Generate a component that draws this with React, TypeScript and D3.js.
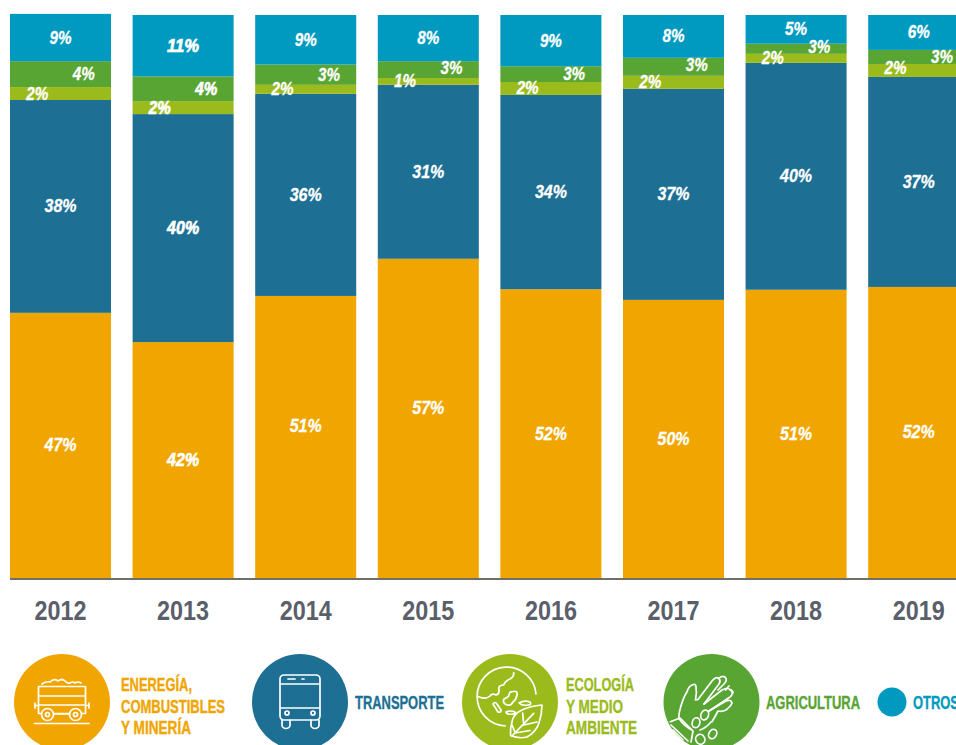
import React from "react";
import * as d3 from "d3";

const years = ["2012", "2013", "2014", "2015", "2016", "2017", "2018", "2019"];
const energia = [47.1, 41.9, 50.1, 56.7, 51.3, 49.4, 51.2, 51.7];
const transporte = [37.8, 40.5, 35.9, 30.9, 34.5, 37.5, 40.3, 37.3];
const ecologia = [2.3, 2.3, 1.6, 1.2, 2.3, 2.3, 1.6, 2.3];
const agricultura = [4.6, 4.4, 3.6, 3.0, 2.8, 3.2, 1.8, 2.5];
const otros = [8.4, 10.9, 8.8, 8.2, 9.1, 7.6, 5.1, 6.2];

const energiaLabels = ["47%", "42%", "51%", "57%", "52%", "50%", "51%", "52%"];
const transporteLabels = ["38%", "40%", "36%", "31%", "34%", "37%", "40%", "37%"];
const ecologiaLabels = ["2%", "2%", "2%", "1%", "2%", "2%", "2%", "2%"];
const agriculturaLabels = ["4%", "4%", "3%", "3%", "3%", "3%", "3%", "3%"];
const otrosLabels = ["9%", "11%", "9%", "8%", "9%", "8%", "5%", "6%"];

const COLORS = { energia: "#f1a500", transporte: "#1d6f94", ecologia: "#9bbb1c", agricultura: "#58a534", otros: "#0099c0" };
const FONT = "'Liberation Sans', sans-serif";

const series = [
  { key: "energia", values: energia, labels: energiaLabels, color: COLORS.energia, lx: 0.5 },
  { key: "transporte", values: transporte, labels: transporteLabels, color: COLORS.transporte, lx: 0.5 },
  { key: "ecologia", values: ecologia, labels: ecologiaLabels, color: COLORS.ecologia, lx: 0.27 },
  { key: "agricultura", values: agricultura, labels: agriculturaLabels, color: COLORS.agricultura, lx: 0.73 },
  { key: "otros", values: otros, labels: otrosLabels, color: COLORS.otros, lx: 0.5 },
];

// Labels the source placed away from the centre of their segment.
const labelNudge: Record<string, number> = { "2014energia": -11, "2015energia": -10, "2019ecologia": -2, "2015agricultura": -2, "2018agricultura": -2, "2017agricultura": -2 };

const x = d3.scaleBand<string>().domain(years).range([10, 969.2]).paddingInner(0.176).paddingOuter(0);
const y = d3.scaleLinear().domain([0, 100]).range([578, 15]);

function Stroke({ children }: { children: React.ReactNode }) {
  return <g fill="none" stroke="#fff" strokeWidth={1.7} strokeLinecap="round" strokeLinejoin="round">{children}</g>;
}

function CartIcon() {
  return (
    <Stroke>
      <path d="M42 684 q4 -3 8 -2 q4 -4 8 -1 q4 -3 7 0 q3 3 5 2 q3 -2 5 0 q3 -2 6 0" />
      <rect x={38.5} y={686.5} width={47} height={27} />
      <path d="M39 696 H85 M39 705 H85 M35 703 V708 M35 705.5 H38 M89 703 V708 M86 705.5 H89" />
      <circle cx={47.5} cy={714.5} r={6} fill={COLORS.energia} />
      <circle cx={47.5} cy={714.5} r={2} />
      <circle cx={75.5} cy={714.5} r={6} fill={COLORS.energia} />
      <circle cx={75.5} cy={714.5} r={2} />
      <path d="M54 714 H69 M34.5 723.5 H89" />
    </Stroke>
  );
}

function BusIcon() {
  return (
    <Stroke>
      <rect x={280} y={675} width={40} height={45} rx={4} />
      <path d="M281 684 H319 M281 708 H319 M288 679 H295 M302 679 H304" />
      <path d="M282 720 V725 a4 3.5 0 0 0 8 0 V720 M311 720 V725 a4 3.5 0 0 0 8 0 V720" />
      <circle cx={287} cy={713} r={2} />
      <circle cx={313} cy={713} r={2} />
    </Stroke>
  );
}

function GlobeIcon() {
  return (
    <Stroke>
      <path d="M505.3 726 A29.5 29.5 0 1 1 536 694" />
      <path d="M513.7 672.7 Q514 677 510 679 Q505 681 503.7 685 Q499 685 498.7 688.3 Q500 694 496 695 Q492 693 490 696 Q486 700 478.7 696.7" />
      <path d="M512 691.7 Q518 690 517 695 Q516 700 513 702 Q511 706 507 705 Q502 703 504 699 Q507 698 508.7 696 Q509 692 512 691.7 Z" />
      <path d="M493 704 Q495 701 497 704 L501 710 Q501 713 498 712 Z" />
      <path d="M519 703 Q524 700 530 702 Q532 705 528 705 Q522 706 519 703 Z" />
      <path d="M506 712 Q511 710 515 712 Q516 714 512 714 Q507 715 506 712 Z" />
      <path d="M542 705 Q530 706 522 710 Q513 714 512 722 Q510 728 510.5 735.5 Q519 739 527 737 Q536 732 539 723 Q542 714 542 705 Z" />
      <path d="M512 736 L533.7 713.3 M523.7 725 L522.7 713 M523.7 725 L537 722 M515.3 733 L512 725 M515.3 733 L530 730.5" />
    </Stroke>
  );
}

function HandIcon() {
  return (
    <Stroke>
      <path d="M678.7 718.3 Q679 712 680.3 708.3 Q683 698 687 691.7 Q689 686 692 685 Q696 683 696 687 Q697 693 695.5 700 L698 699.5 L712 681 Q716 676 719 678.5 Q721 681 719 684 L704 704" />
      <path d="M704 704 L722 690 Q727 687 731 690 Q734 694 730 697 L709 711 " />
      <path d="M709 711 L726 701 Q731 699 732 703 Q731 706 726 710 Q722 712 718 711 Q715 717 712 721.7" />
      <path d="M718.5 678.5 Q722 675 725 677 Q728 680 724 684 L718 690 M725.5 690 L729 686 M730 690 Q733 690 733 693" />
      <path d="M678.7 718.3 Q685 727 692 730 M700 730 Q706 728 711 722" />
      <ellipse cx={696} cy={722.7} rx={3.8} ry={5} transform="rotate(15 696 722.7)" />
      <ellipse cx={704.7} cy={715} rx={3.8} ry={5} transform="rotate(20 704.7 715)" />
      <ellipse cx={700.3} cy={739.3} rx={4.5} ry={5} transform="rotate(-30 700.3 739.3)" />
      <ellipse cx={712.7} cy={734} rx={3.8} ry={5} transform="rotate(30 712.7 734)" />
      <path d="M670.3 721.7 L680 718 L693 731 L691 742 M671 725 L688 741 M673 730 L683 740 M675 735 L680 740" />
    </Stroke>
  );
}

const legendText = [
  { lines: ["ENEREGÍA,", "COMBUSTIBLES", "Y MINERÍA"], tx: 121, color: COLORS.energia, widths: [71, 104, 70] },
  { lines: ["TRANSPORTE"], tx: 355, color: COLORS.transporte, widths: [89] },
  { lines: ["ECOLOGÍA", "Y MEDIO", "AMBIENTE"], tx: 566, color: COLORS.ecologia, widths: [68, 57, 71] },
  { lines: ["AGRICULTURA"], tx: 766, color: COLORS.agricultura, widths: [94] },
  { lines: ["OTROS"], tx: 913, color: COLORS.otros, widths: [46] },
];
const legendDots = [
  { cx: 62, r: 48, color: COLORS.energia },
  { cx: 300, r: 48, color: COLORS.transporte },
  { cx: 510, r: 48, color: COLORS.ecologia },
  { cx: 711.5, r: 48, color: COLORS.agricultura },
  { cx: 892, r: 14.5, color: COLORS.otros },
];

export default function App() {
  const stacked = years.map((yr, i) => {
    let acc = 0;
    return series.map((s) => {
      const y0 = acc;
      acc += s.values[i];
      return { ...s, yr, y0, y1: acc, label: s.labels[i] };
    });
  });
  const bw = x.bandwidth();
  return (
    <svg width={956} height={745} viewBox="0 0 956 745" style={{ position: "absolute", left: 0, top: 0, background: "#fff" }}>
      {stacked.flat().map((d) => (
        <rect key={d.yr + d.key} x={x(d.yr)} y={y(d.y1)} width={bw} height={y(d.y0) - y(d.y1)} fill={d.color} />
      ))}
      <line x1={10} x2={956} y1={579} y2={579} stroke="#6f6f6a" strokeWidth={2} />
      {stacked.flat().map((d) => (
        <text
          key={"t" + d.yr + d.key}
          x={(x(d.yr) as number) + bw * d.lx}
          y={(y(d.y0) + y(d.y1)) / 2 + 6 + (labelNudge[d.yr + d.key] ?? 0)}
          textAnchor="middle"
          fontFamily={FONT}
          fontWeight={700}
          fontStyle="italic"
          fontSize={19}
          fill="#fff"
          stroke="#fff"
          strokeWidth={d.yr === "2013" ? 0.7 : 0.3}
          textLength={d.label.length === 3 ? 32 : 22}
          lengthAdjust="spacingAndGlyphs"
        >
          {d.label}
        </text>
      ))}
      {years.map((yr) => (
        <text key={yr} x={(x(yr) as number) + bw / 2} y={620} textAnchor="middle" fontFamily={FONT} fontWeight={700} fontSize={28} fill="#5a5f6a" textLength={52} lengthAdjust="spacingAndGlyphs">
          {yr}
        </text>
      ))}
      {legendDots.map((d) => (
        <circle key={d.cx} cx={d.cx} cy={702} r={d.r} fill={d.color} />
      ))}
      <CartIcon />
      <BusIcon />
      <GlobeIcon />
      <HandIcon />
      {legendText.map((l) =>
        l.lines.map((t, i) => (
          <text
            key={t}
            x={l.tx}
            y={l.lines.length === 1 ? 709 : 691 + i * 21.5}
            fontFamily={FONT}
            fontWeight={700}
            fontSize={18}
            fill={l.color}
            stroke={l.color}
            strokeWidth={0.35}
            textLength={l.widths[i]}
            lengthAdjust="spacingAndGlyphs"
          >
            {t}
          </text>
        ))
      )}
    </svg>
  );
}
